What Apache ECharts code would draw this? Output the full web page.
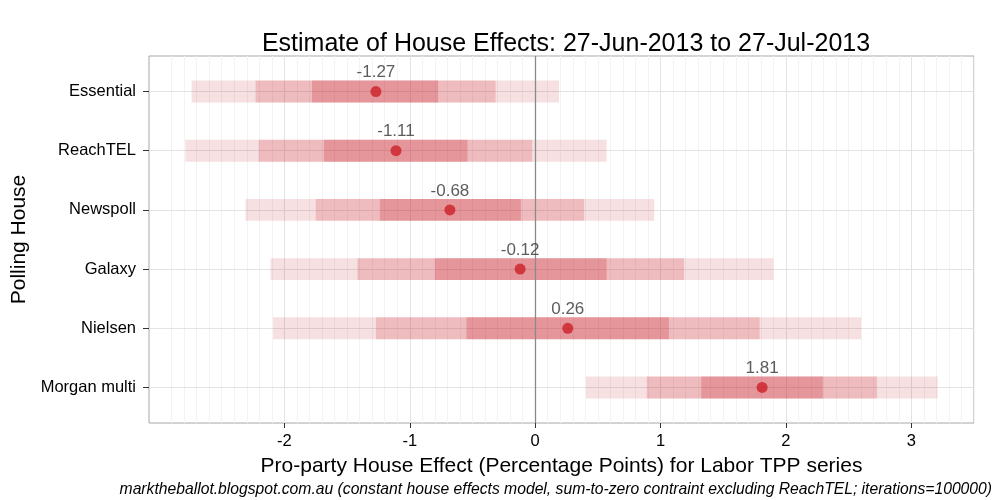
<!DOCTYPE html>
<html>
<head>
<meta charset="utf-8">
<script src="https://cdn.jsdelivr.net/npm/echarts@6/dist/echarts.min.js"></script>
<style>html,body{margin:0;padding:0;background:#fff}#c{width:1000px;height:500px}</style>
</head>
<body>
<div id="c"></div>
<script>
const categories = ['Essential', 'ReachTEL', 'Newspoll', 'Galaxy', 'Nielsen', 'Morgan multi'];
const medians   = [-1.27, -1.11, -0.68, -0.12, 0.26, 1.81];
const outerLow  = [-2.74, -2.79, -2.31, -2.11, -2.09, 0.405];
const outerHigh = [0.19, 0.57, 0.95, 1.90, 2.60, 3.21];
const midLow    = [-2.23, -2.205, -1.75, -1.417, -1.27, 0.89];
const midHigh   = [-0.316, -0.024, 0.39, 1.187, 1.79, 2.727];
const innerLow  = [-1.78, -1.684, -1.239, -0.80, -0.548, 1.325];
const innerHigh = [-0.774, -0.54, -0.114, 0.57, 1.067, 2.294];
const xTicks = [-2, -1, 0, 1, 2, 3];
const xMin = -3.08, xMax = 3.5;

const FONT = 'Liberation Sans';
const idx = categories.map((_, i) => i);

function bandSeries(lo, hi, color, z) {
  return {
    type: 'custom',
    z: z,
    silent: true,
    encode: { x: [1, 2], y: 0 },
    data: idx.map(i => [i, lo[i], hi[i]]),
    renderItem: function (params, api) {
      const y = api.value(0);
      const a = api.coord([api.value(1), y]);
      const b = api.coord([api.value(2), y]);
      const h = api.size([0, 1])[1] * 0.37;
      return {
        type: 'rect',
        shape: { x: a[0], y: a[1] - h / 2, width: b[0] - a[0], height: h },
        style: { fill: color }
      };
    }
  };
}

// gridline positions
const minorLines = [];
for (let k = Math.ceil(xMin * 10); k <= Math.floor(xMax * 10); k++) {
  if (k % 10 !== 0) minorLines.push({ xAxis: k / 10 });
}
const majorLines = xTicks.map(v => ({ xAxis: v }));
const hLines = idx.map(i => ({ yAxis: i }));

const chart = echarts.init(document.getElementById('c'));
chart.setOption({
  animation: false,
  backgroundColor: '#ffffff',
  title: {
    text: 'Estimate of House Effects: 27-Jun-2013 to 27-Jul-2013',
    left: 561, top: 27, textAlign: 'center',
    textStyle: { fontFamily: FONT, fontSize: 25, fontWeight: 'normal', color: '#000' }
  },
  graphic: [
    {
      type: 'text', left: 'auto', right: 8, top: 482,
      style: {
        text: 'marktheballot.blogspot.com.au (constant house effects model, sum-to-zero contraint excluding ReachTEL; iterations=100000)',
        font: 'italic 15.7px "Liberation Sans"', fill: '#000'
      }
    }
  ],
  grid: {
    left: 149, right: 26, top: 56, bottom: 77,
    show: true, borderColor: '#a8a8a8', borderWidth: 1, backgroundColor: 'transparent'
  },
  xAxis: {
    type: 'value', min: xMin, max: xMax,
    name: 'Pro-party House Effect (Percentage Points) for Labor TPP series',
    nameLocation: 'middle', nameGap: 33,
    nameTextStyle: { fontFamily: FONT, fontSize: 21, color: '#000' },
    axisLine: { show: false, onZero: false },
    axisTick: { show: true, customValues: xTicks, length: 5, lineStyle: { color: '#333', width: 1 } },
    axisLabel: { customValues: xTicks, fontFamily: FONT, fontSize: 16.5, color: '#000', margin: 10,
      formatter: v => String(v) },
    splitLine: { show: false }
  },
  yAxis: {
    type: 'value', inverse: true, min: -0.6, max: 5.6,
    name: 'Polling House', nameLocation: 'middle', nameGap: 110, nameRotate: 90,
    nameTextStyle: { fontFamily: FONT, fontSize: 21, color: '#000' },
    axisLine: { show: false, onZero: false },
    axisTick: { show: true, customValues: idx, length: 6, lineStyle: { color: '#333', width: 1 } },
    axisLabel: { customValues: idx, fontFamily: FONT, fontSize: 16.5, color: '#000', margin: 13,
      formatter: v => categories[Math.round(v)] },
    splitLine: { show: false }
  },
  series: [
    {
      type: 'line', data: [], z: 0, silent: true,
      markLine: {
        z: 0,
        silent: true, symbol: 'none', animation: false,
        label: { show: false },
        lineStyle: { color: '#f3f3f3', width: 1, type: 'solid' },
        data: minorLines
      }
    },
    {
      type: 'line', data: [], z: 0, silent: true,
      markLine: {
        z: 0,
        silent: true, symbol: 'none', animation: false,
        label: { show: false },
        lineStyle: { color: '#e3e3e3', width: 1, type: 'solid' },
        data: majorLines.concat(hLines)
      }
    },
    bandSeries(outerLow, outerHigh, 'rgba(200,30,40,0.138)', 1),
    bandSeries(midLow, midHigh, 'rgba(200,30,40,0.18)', 2),
    bandSeries(innerLow, innerHigh, 'rgba(200,30,40,0.24)', 3),
    {
      type: 'line', data: [], z: 4, silent: true,
      markLine: {
        z: 4,
        silent: true, symbol: 'none', animation: false,
        label: { show: false },
        lineStyle: { color: '#8a8a8a', width: 1.3, type: 'solid' },
        data: [{ xAxis: 0 }]
      }
    },
    {
      type: 'scatter', z: 5, silent: true,
      symbol: 'circle', symbolSize: 11,
      itemStyle: { color: '#cc1f27' },
      data: idx.map(i => [medians[i], i]),
      label: {
        show: true, position: 'top', distance: 5,
        fontFamily: FONT, fontSize: 17, color: '#333',
        formatter: p => medians[p.dataIndex].toFixed(2)
      }
    }
  ]
});
</script>
</body>
</html>
